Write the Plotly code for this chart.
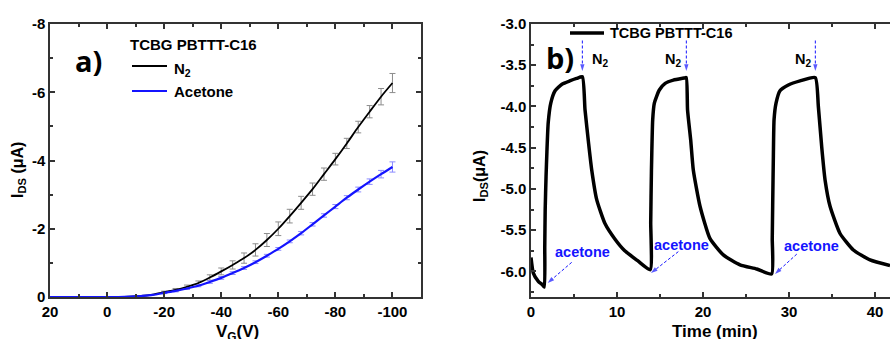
import plotly.graph_objects as go

W, H = 890, 339

# ---------------- Panel a) : transfer curves ----------------
vg = [20, 16, 12, 8, 4, 0, -4, -8, -12, -16, -20, -24, -28, -32, -36, -40, -44, -48,
      -52, -56, -60, -64, -68, -72, -76, -80, -84, -88, -92, -96, -100]
ids_n2 = [0, 0, 0, 0, 0, 0, 0, -0.01, -0.03, -0.07, -0.14, -0.21, -0.30, -0.41, -0.57,
          -0.75, -0.94, -1.14, -1.38, -1.67, -2.00, -2.37, -2.76, -3.16, -3.60, -4.04,
          -4.50, -4.98, -5.43, -5.87, -6.27]
ids_ac = [0, 0, 0, 0, 0, 0, 0, -0.01, -0.03, -0.06, -0.12, -0.18, -0.25, -0.33, -0.44,
          -0.56, -0.70, -0.85, -1.02, -1.21, -1.41, -1.63, -1.87, -2.13, -2.39, -2.65,
          -2.91, -3.15, -3.38, -3.60, -3.81]
# error bars shown from Vg = -20 V onward
err_start = 10
err_n2 = [0.03, 0.04, 0.05, 0.06, 0.08, 0.10, 0.12, 0.15, 0.18, 0.19, 0.20, 0.20,
          0.19, 0.18, 0.18, 0.17, 0.15, 0.17, 0.18, 0.24, 0.28]
err_ac = [0.02, 0.03, 0.03, 0.03, 0.04, 0.04, 0.04, 0.04, 0.04, 0.04, 0.04, 0.04,
          0.05, 0.05, 0.05, 0.06, 0.06, 0.07, 0.08, 0.11, 0.15]
xa_ticks = [20, 0, -20, -40, -60, -80, -100]
xa_text = ["20", "0", "-20", "-40", "-60", "-80", "-100"]
ya_ticks = [0, -2, -4, -6, -8]
ya_text = ["0", "-2", "-4", "-6", "-8"]

# ---------------- Panel b) : time response ----------------
time_min = [0, 0.27, 0.85, 1.3, 1.55, 1.6, 1.65, 1.75, 1.85, 2.0, 2.3, 2.8, 3.6, 4.5, 5.3, 5.97,
            6.28, 6.7, 7.06, 7.64, 8.6, 9.77, 10.9, 12.4, 13.86,
            13.92, 14.0, 14.15, 14.34, 14.92, 15.6, 16.55, 17.8, 18.05,
            18.2, 18.57, 18.87, 19.65, 20.8, 22.36, 24.3, 26.24, 27.98,
            28.05, 28.1, 28.18, 28.26, 28.49, 28.95, 29.92, 31.28, 33.05,
            33.41, 33.8, 34.19, 34.77, 35.93, 37.48, 39.42, 41.74]
ids_t = [-5.83, -6.02, -6.12, -6.16, -6.19, -5.70, -5.25, -4.85, -4.55, -4.20, -3.96, -3.81,
         -3.73, -3.69, -3.66, -3.64,
         -4.04, -4.45, -4.77, -5.13, -5.42, -5.61, -5.75, -5.87, -5.98,
         -5.40, -4.80, -4.16, -3.96, -3.80, -3.72, -3.68, -3.655, -3.65,
         -4.04, -4.41, -4.77, -5.21, -5.60, -5.80, -5.92, -5.97, -6.03,
         -5.60, -5.20, -4.60, -4.16, -3.96, -3.81, -3.74, -3.69, -3.65,
         -4.00, -4.49, -4.89, -5.21, -5.54, -5.74, -5.86, -5.93]
xb_ticks = [0, 10, 20, 30, 40]
xb_text = ["0", "10", "20", "30", "40"]
yb_ticks = [-6.0, -5.5, -5.0, -4.5, -4.0, -3.5, -3.0]
yb_text = ["-6.0", "-5.5", "-5.0", "-4.5", "-4.0", "-3.5", "-3.0"]

# event markers (N2 on / acetone on)
n2_arrow_t = [5.97, 18.06, 33.06]
n2_arrow_y = [-3.20, -3.57]
n2_label_t = [8.02, 16.5, 31.57]
n2_label_y = -3.44
ac_tail_t = [4.73, 17.13, 30.9]
ac_tail_y = [-5.89, -5.76, -5.79]
ac_tip_t = [1.94, 13.95, 28.37]
ac_tip_y = [-6.14, -6.02, -6.03]
ac_label_t = [5.99, 17.44, 32.56]
ac_label_y = [-5.76, -5.68, -5.69]

BLUE = "#1414ff"
AXC = "#333333"
FAM = "Liberation Sans, Arial, sans-serif"


def font(size, color="black", family=FAM):
    return dict(family=family, size=size, color=color, weight="bold")


fig = go.Figure()

# panel a error bars
fig.add_trace(go.Scatter(x=vg[err_start:], y=ids_n2[err_start:], mode="markers",
                         marker=dict(size=2, color="rgba(0,0,0,0)"),
                         error_y=dict(type="data", array=err_n2, color="#8c8c8c",
                                      thickness=1, width=3),
                         xaxis="x", yaxis="y", showlegend=False, hoverinfo="skip"))
fig.add_trace(go.Scatter(x=vg[err_start:], y=ids_ac[err_start:], mode="markers",
                         marker=dict(size=2, color="rgba(0,0,0,0)"),
                         error_y=dict(type="data", array=err_ac, color="#8c8cff",
                                      thickness=1, width=3),
                         xaxis="x", yaxis="y", showlegend=False, hoverinfo="skip"))
fig.add_trace(go.Scatter(x=vg, y=ids_n2, mode="lines", line=dict(color="black", width=1.8,
                         shape="spline", smoothing=0.8), xaxis="x", yaxis="y",
                         name="N2", showlegend=False))
fig.add_trace(go.Scatter(x=vg, y=ids_ac, mode="lines", line=dict(color=BLUE, width=2.2,
                         shape="spline", smoothing=0.8), xaxis="x", yaxis="y",
                         name="Acetone", showlegend=False))

# panel b curve
fig.add_trace(go.Scatter(x=time_min, y=ids_t, mode="lines",
                         line=dict(color="black", width=3.5, shape="spline", smoothing=0.5),
                         xaxis="x2", yaxis="y2", showlegend=False))

# dashed arrows
for t in n2_arrow_t:
    fig.add_trace(go.Scatter(x=[t, t], y=n2_arrow_y, mode="lines+markers",
                             line=dict(color=BLUE, width=1, dash="3px,2px"),
                             marker=dict(symbol="arrow", size=[0, 7], angleref="previous",
                                         color=BLUE, line=dict(width=0)),
                             xaxis="x2", yaxis="y2", showlegend=False, hoverinfo="skip"))
for i in range(len(ac_tail_t)):
    fig.add_trace(go.Scatter(x=[ac_tail_t[i], ac_tip_t[i]], y=[ac_tail_y[i], ac_tip_y[i]],
                             mode="lines+markers",
                             line=dict(color=BLUE, width=1, dash="3px,2px"),
                             marker=dict(symbol="arrow", size=[0, 7], angleref="previous",
                                         color=BLUE, line=dict(width=0)),
                             xaxis="x2", yaxis="y2", showlegend=False, hoverinfo="skip"))

axis_common = dict(showline=True, linecolor=AXC, linewidth=1.5, ticks="inside",
                   tickcolor=AXC, tickwidth=1.5, ticklen=5, showgrid=False,
                   zeroline=False, tickfont=font(15), tickmode="array", automargin=False)

ydom = [1 - 297 / H, 1 - 24 / H]

fig.update_layout(
    template="none",
    width=W, height=H,
    margin=dict(l=0, r=0, t=0, b=0, autoexpand=False),
    paper_bgcolor="white", plot_bgcolor="white",
    xaxis=dict(domain=[50 / W, 421 / W], range=[20, -110], tickvals=xa_ticks,
               ticktext=xa_text, mirror="allticks", anchor="y",
               minor=dict(ticks="inside", ticklen=3, tickcolor=AXC, tickwidth=1.5,
                          tickmode="linear", tick0=10, dtick=20, showgrid=False),
               **axis_common),
    yaxis=dict(domain=ydom, range=[0, -8], tickvals=ya_ticks, ticktext=ya_text,
               mirror="allticks", anchor="x",
               minor=dict(ticks="inside", ticklen=3, tickcolor=AXC, tickwidth=1.5,
                          tickmode="linear", tick0=-1, dtick=2, showgrid=False),
               **axis_common),
    xaxis2=dict(domain=[531 / W, 1.0], range=[0, 41.74], tickvals=xb_ticks,
                ticktext=xb_text, mirror="allticks", anchor="y2",
                minor=dict(ticks="inside", ticklen=3, tickcolor=AXC, tickwidth=1.5,
                           tickmode="linear", tick0=5, dtick=10, showgrid=False),
                **axis_common),
    yaxis2=dict(domain=ydom, range=[-6.31, -3.0], tickvals=yb_ticks, ticktext=yb_text,
                mirror=False, anchor="x2",
                minor=dict(ticks="inside", ticklen=3, tickcolor=AXC, tickwidth=1.5,
                           tickmode="linear", tick0=-3.25, dtick=0.5, showgrid=False),
                **axis_common),
)

ann = []


def paper_text(text, x, y, size, xanchor="center", color="black", family=FAM, angle=0):
    ann.append(dict(text=text, x=x / W, y=1 - y / H, xref="paper", yref="paper",
                    xanchor=xanchor, yanchor="middle", showarrow=False,
                    font=font(size, color, family), textangle=angle))


# axis titles
paper_text("I<sub>DS</sub> (μA)", 18, 170, 16, angle=-90)
paper_text("I<sub>DS</sub>(μA)", 480, 176, 16, angle=-90)
paper_text("V<sub>G</sub>(V)", 237, 333, 17)
paper_text("Time (min)", 715, 331, 17)

# panel labels
paper_text("a)", 88, 61, 29, family="Open Sans, sans-serif")
paper_text("b)", 560, 57, 29, family="Open Sans, sans-serif")

# legend a
paper_text("TCBG PBTTT-C16", 128, 45, 15, xanchor="left")
paper_text("N<sub>2</sub>", 172, 69, 15, xanchor="left")
paper_text("Acetone", 172, 91, 15, xanchor="left")
# legend b
paper_text("TCBG PBTTT-C16", 608, 33, 14.5, xanchor="left")

# event labels
for t in n2_label_t:
    ann.append(dict(text="N<sub>2</sub>", x=t, y=n2_label_y, xref="x2", yref="y2",
                    showarrow=False, font=font(14.5)))
for i in range(len(ac_label_t)):
    ann.append(dict(text="acetone", x=ac_label_t[i], y=ac_label_y[i], xref="x2",
                    yref="y2", showarrow=False, font=font(14.5, BLUE)))

fig.update_layout(annotations=ann)

shapes = [
    dict(type="line", xref="paper", yref="paper", x0=132 / W, x1=167 / W,
         y0=1 - 66 / H, y1=1 - 66 / H, line=dict(color="black", width=1.8)),
    dict(type="line", xref="paper", yref="paper", x0=132 / W, x1=167 / W,
         y0=1 - 91 / H, y1=1 - 91 / H, line=dict(color=BLUE, width=2.2)),
    dict(type="line", xref="paper", yref="paper", x0=570 / W, x1=604 / W,
         y0=1 - 33 / H, y1=1 - 33 / H, line=dict(color="black", width=3.5)),
]
fig.update_layout(shapes=shapes)

fig.write_html("out.html", config={"displayModeBar": False},
               post_script="document.body.style.margin='0px';")
